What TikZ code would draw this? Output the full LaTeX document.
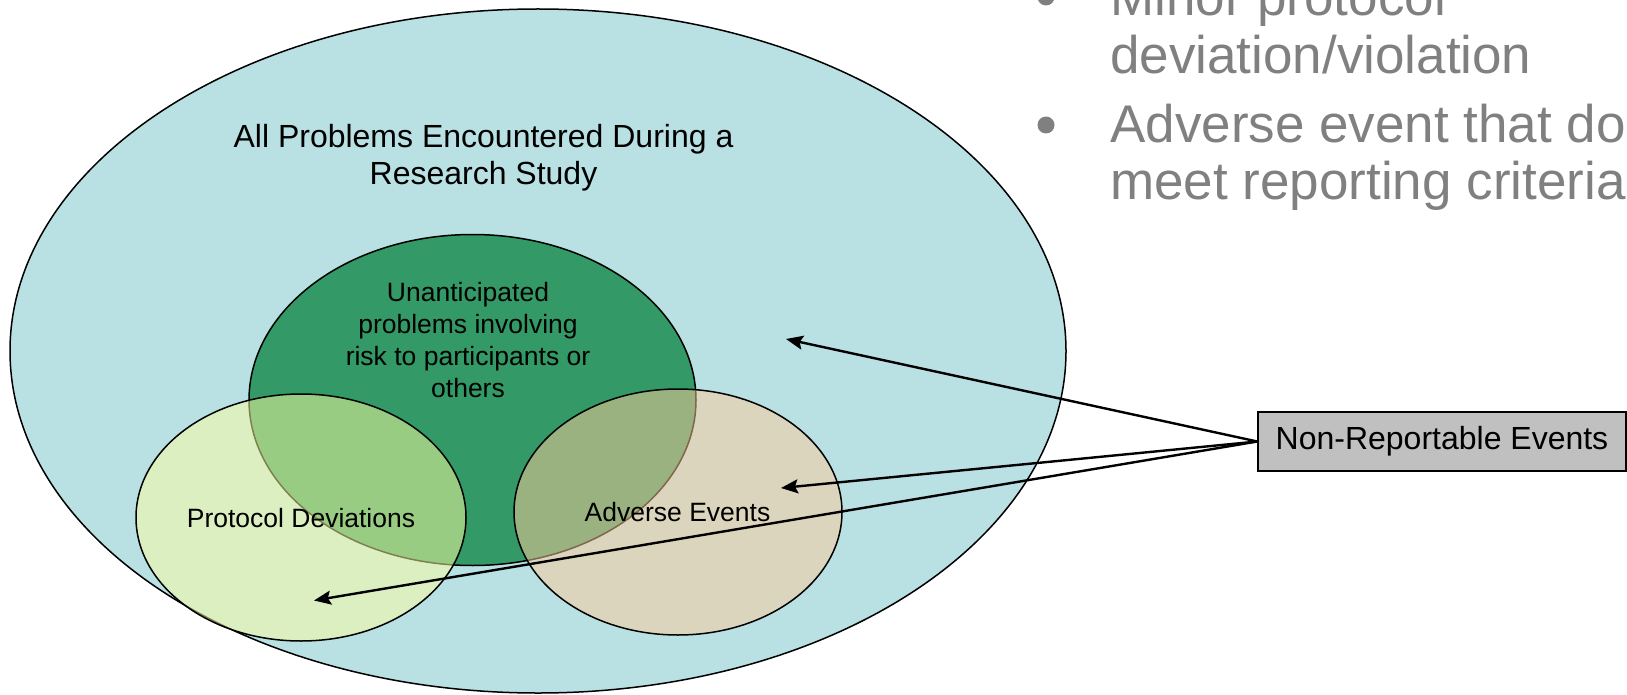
\documentclass[tikz,border=0pt]{standalone}
\usepackage{fontspec}
\setmainfont{Liberation Sans}
\usepackage{xcolor}
\usetikzlibrary{arrows.meta}
\definecolor{vblack}{HTML}{000000}
\definecolor{vblue}{HTML}{B9E0E3}
\definecolor{vgreen}{HTML}{339966}
\definecolor{vlime}{HTML}{FFFFA0}
\definecolor{vtan}{HTML}{FFCC99}
\definecolor{vgray}{HTML}{808080}
\definecolor{vbox}{HTML}{C0C0C0}

\begin{document}
\begin{tikzpicture}[x=1pt, y=-1pt,
	txt/.style={align=center, inner sep=0pt, font=\fontsize{26.5}{32}\selectfont},
	bigtxt/.style={align=center, inner sep=0pt, font=\fontsize{32}{37}\selectfont},
	bullettxt/.style={anchor=base west, inner sep=0pt, text=vgray, font=\fontsize{53}{58}\selectfont},
	pointer/.style={line width=2.4pt, draw=vblack, -{Stealth[length=17pt, width=14pt, inset=3pt]}}]
	\useasboundingbox (0,0) rectangle (1627,695);
	\clip (0,0) rectangle (1627,695);
	% ellipses
	\draw[line width=1.5pt, draw=vblack, fill=vblue] (538,351) ellipse (528pt and 342pt);
	\draw[line width=1.5pt, draw=vblack, fill=vgreen] (472.5,400) ellipse (223.5pt and 165.5pt);
	\draw[line width=1.5pt, draw=vblack, fill=vlime, fill opacity=0.5] (301,517.5) ellipse (165pt and 123.5pt);
	\draw[line width=1.5pt, draw=vblack, fill=vtan, fill opacity=0.5] (678,512) ellipse (164pt and 123pt);
	% labels
	\node[bigtxt] (allprob) at (483.5,157.5) {All Problems Encountered During a\\Research Study};
	\node[txt] (unant) at (468,340) {Unanticipated\\problems involving\\risk to participants or\\others};
	\node[txt] (protdev) at (301,518) {Protocol Deviations};
	\node[txt] (advev) at (677.5,512.5) {Adverse Events};
	% box and arrows
	\node[draw=vblack, line width=1.5pt, fill=vbox, minimum width=368pt, minimum height=59pt, inner sep=0pt, font=\fontsize{32}{37}\selectfont] (nre) at (1442,441.5) {Non-Reportable Events};
	\coordinate (ptall) at (786,339);
	\coordinate (ptae) at (781,488);
	\coordinate (ptpd) at (314,600.5);
	\draw[pointer] (nre.west) -- (ptall);
	\draw[pointer] (nre.west) -- (ptae);
	\draw[pointer] (nre.west) -- (ptpd);
	% bullets
	\fill[vgray] (1046,-3) circle (8.5);
	\fill[vgray] (1046,125) circle (8.5);
	\node[bullettxt] (minor1) at (1110,16) {Minor protocol};
	\node[bullettxt] (minor2) at (1110,74) {deviation/violation};
	\node[bullettxt] (adv1) at (1110,143) {Adverse event that do};
	\node[bullettxt] (adv2) at (1110,200) {meet reporting criteria};
\end{tikzpicture}
\end{document}
